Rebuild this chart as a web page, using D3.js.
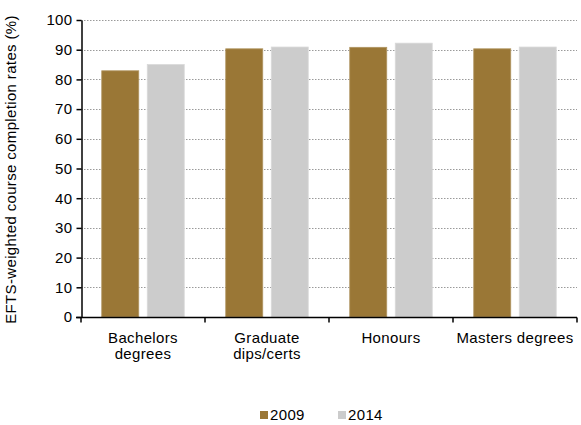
<!DOCTYPE html>
<html>
<head>
<meta charset="utf-8">
<script src="https://cdn.jsdelivr.net/npm/d3@7"></script>
<style>
  body { margin: 0; background: #fff; }
  text { font-family: "Liberation Sans", Arial, sans-serif; fill: #000; letter-spacing: 0.35px; }
</style>
</head>
<body>
<div id="canvas"></div>
<script>
"use strict"

/* Data */
let categories = [["Bachelors", "degrees"], ["Graduate", "dips/certs"], ["Honours"], ["Masters degrees"]];
let seriesNames = ["2009", "2014"];
let values2009 = [82.9, 90.3, 90.8, 90.3];
let values2014 = [85.0, 90.9, 92.2, 90.9];
let yTicks = [0, 10, 20, 30, 40, 50, 60, 70, 80, 90, 100];

/* Drawing config */
let svgWidth = 581;
let svgHeight = 425;
let plotLeft = 81, plotRight = 577, plotTop = 20, plotBottom = 317;
let colors = { "2009": "#9a7736", "2014": "#cccccc" };
let edgeColors = { "2009": "#b09562", "2014": "#d9d9d9" };
let fontSize = "15px";

let svg = d3.select("#canvas")
    .append("svg")
    .attr("width", svgWidth)
    .attr("height", svgHeight);

let catKeys = categories.map(function (c) { return c.join(" "); });

let xScale = d3.scaleBand()
    .domain(catKeys)
    .range([plotLeft, plotRight]);

let xInner = d3.scaleBand()
    .domain(seriesNames)
    .range([0, xScale.bandwidth()])
    .paddingInner(0.187)
    .paddingOuter(0.456);

let yScale = d3.scaleLinear()
    .domain([0, 100])
    .range([plotBottom, plotTop]);

/* dotted gridlines */
svg.append("g")
    .selectAll("line")
    .data(yTicks.filter(function (t) { return t > 0; }))
    .join("line")
    .attr("x1", plotLeft)
    .attr("x2", plotRight)
    .attr("y1", function (d) { return Math.round(yScale(d)) + 0.5; })
    .attr("y2", function (d) { return Math.round(yScale(d)) + 0.5; })
    .attr("stroke", "#9a9a9a")
    .attr("stroke-width", 1)
    .attr("stroke-dasharray", "1.5,1.5");

/* bars */
let rows = [];
catKeys.forEach(function (k, i) {
    rows.push({ cat: k, series: "2009", value: values2009[i] });
    rows.push({ cat: k, series: "2014", value: values2014[i] });
});

svg.append("g")
    .selectAll("rect")
    .data(rows)
    .join("rect")
    .attr("x", function (d) { return xScale(d.cat) + xInner(d.series); })
    .attr("y", function (d) { return yScale(d.value); })
    .attr("width", xInner.bandwidth())
    .attr("height", function (d) { return yScale(0) - yScale(d.value); })
    .attr("fill", function (d) { return colors[d.series]; })
    .attr("stroke", function (d) { return edgeColors[d.series]; })
    .attr("stroke-width", 0.8);

/* y axis */
let yAxis = svg.append("g")
    .attr("transform", "translate(" + (plotLeft + 0.5) + ",0)")
    .call(d3.axisLeft(yScale).tickValues(yTicks).tickSize(5).tickSizeOuter(0).tickPadding(4));
yAxis.select(".domain").attr("stroke", "#000").attr("stroke-width", 1.5);
yAxis.selectAll(".tick line").attr("stroke", "#000").attr("stroke-width", 1.5);
yAxis.selectAll(".tick text").style("font-size", fontSize).attr("font-family", null);

/* x axis: ticks at category boundaries */
let xAxis = svg.append("g")
    .attr("transform", "translate(0," + (plotBottom + 0.5) + ")");
xAxis.append("line")
    .attr("x1", plotLeft - 5)
    .attr("x2", plotRight)
    .attr("stroke", "#000")
    .attr("stroke-width", 1.5);
let boundaries = catKeys.map(function (k) { return xScale(k); }).concat([plotRight]);
xAxis.selectAll("line.tick")
    .data(boundaries)
    .join("line")
    .attr("class", "tick")
    .attr("x1", function (d) { return d; })
    .attr("x2", function (d) { return d; })
    .attr("y1", 0)
    .attr("y2", 5)
    .attr("stroke", "#000")
    .attr("stroke-width", 1.5);

let catLabels = svg.append("g")
    .selectAll("text")
    .data(categories)
    .join("text")
    .attr("x", function (d, i) { return xScale(catKeys[i]) + xScale.bandwidth() / 2; })
    .attr("y", plotBottom + 26)
    .attr("text-anchor", "middle")
    .style("font-size", fontSize);
catLabels.selectAll("tspan")
    .data(function (d) { return d; })
    .join("tspan")
    .attr("x", function () { return d3.select(this.parentNode).attr("x"); })
    .attr("dy", function (d, i) { return i === 0 ? 0 : 16; })
    .text(function (d) { return d; });

/* y axis title */
svg.append("text")
    .attr("transform", "translate(12," + ((plotTop + plotBottom) / 2 + 1) + ") rotate(-90)")
    .attr("text-anchor", "middle")
    .attr("dominant-baseline", "middle")
    .style("font-size", fontSize)
    .text("EFTS-weighted course completion rates (%)");

/* legend */
let legendX = [260, 338];
let legendY = 411;
let legend = svg.append("g")
    .selectAll("g")
    .data(seriesNames)
    .join("g")
    .attr("transform", function (d, i) { return "translate(" + legendX[i] + "," + legendY + ")"; });
legend.append("rect")
    .attr("width", 8)
    .attr("height", 8)
    .attr("fill", function (d) { return colors[d]; });
legend.append("text")
    .attr("x", 10)
    .attr("y", 8.5)
    .style("font-size", fontSize)
    .text(function (d) { return d; });
</script>
</body>
</html>
